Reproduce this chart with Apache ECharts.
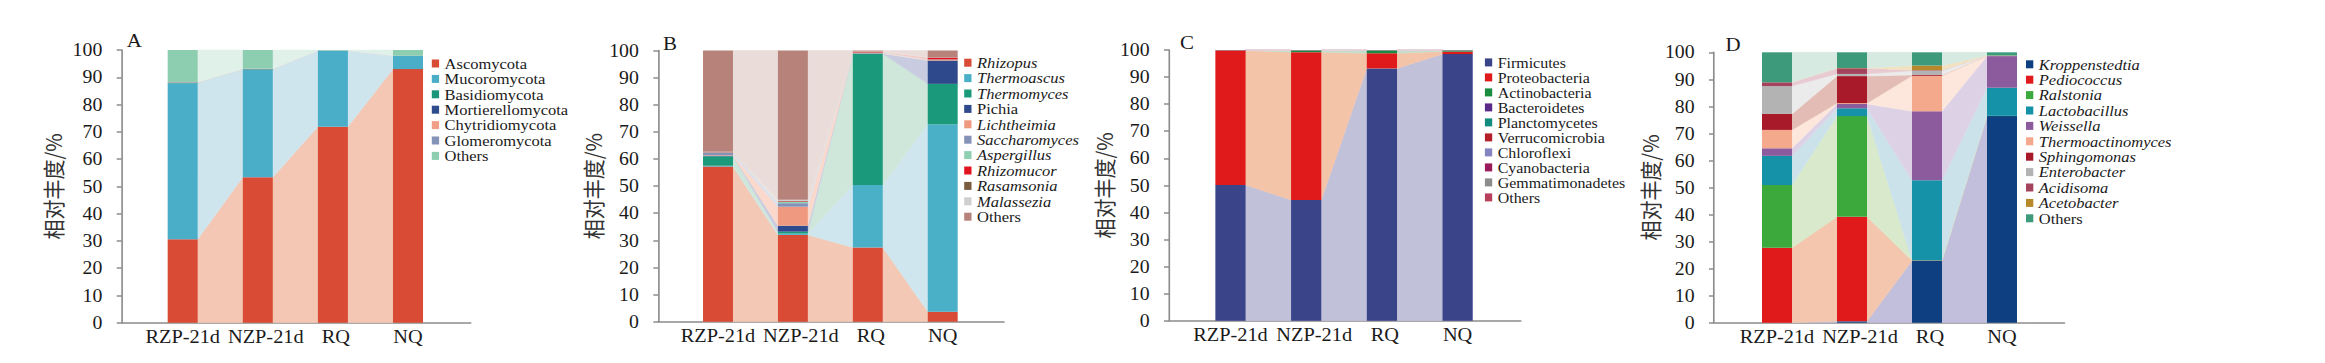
<!DOCTYPE html>
<html>
<head>
<meta charset="utf-8">
<script src="https://cdn.jsdelivr.net/npm/echarts/dist/echarts.min.js"></script>
<style>
html,body{margin:0;padding:0;background:#fff;overflow:hidden;}
#chart{width:2113.6px;height:363px;transform:scaleX(1.1);transform-origin:0 0;}
</style>
</head>
<body>
<div id="chart"></div>
<script>
// ---------------- DATA ----------------
const categories = ['RZP-21d', 'NZP-21d', 'RQ', 'NQ'];
const yAxisTitle = '相对丰度/%';

// A: fungal phyla (rows = taxa, columns = categories)
const fungalPhyla = ['Ascomycota', 'Mucoromycota', 'Basidiomycota', 'Mortierellomycota', 'Chytridiomycota', 'Glomeromycota', 'Others'];
const fungalPhylaValues = [
  [30.6, 53.3, 71.9, 93.0],
  [57.2, 39.4, 27.8, 4.8],
  [0.2, 0.2, 0.05, 0.04],
  [0.1, 0.1, 0.02, 0.02],
  [0.1, 0.1, 0.02, 0.02],
  [0.1, 0.05, 0.01, 0.02],
  [11.7, 6.85, 0.2, 2.1]
];

// B: fungal genera
const fungalGenera = ['Rhizopus', 'Thermoascus', 'Thermomyces', 'Pichia', 'Lichtheimia', 'Saccharomyces', 'Aspergillus', 'Rhizomucor', 'Rasamsonia', 'Malassezia', 'Others'];
const fungalGeneraValues = [
  [57.2, 32.0, 27.4, 3.7],
  [0.3, 0.5, 23.0, 69.1],
  [3.5, 0.7, 48.4, 14.9],
  [0.2, 2.2, 0.1, 8.6],
  [0.2, 7.0, 0.1, 0.2],
  [0.9, 1.3, 0.05, 0.1],
  [0.1, 0.5, 0.2, 0.1],
  [0.1, 0.2, 0.3, 0.7],
  [0.05, 0.1, 0.05, 0.1],
  [0.1, 0.5, 0.1, 0.1],
  [37.35, 55.0, 0.3, 2.4]
];

// C: bacterial phyla
const bacterialPhyla = ['Firmicutes', 'Proteobacteria', 'Actinobacteria', 'Bacteroidetes', 'Planctomycetes', 'Verrucomicrobia', 'Chloroflexi', 'Cyanobacteria', 'Gemmatimonadetes', 'Others'];
const bacterialPhylaValues = [
  [50.1, 44.6, 93.2, 98.5],
  [49.7, 54.6, 5.6, 0.9],
  [0.05, 0.6, 1.0, 0.4],
  [0.05, 0.05, 0.05, 0.05],
  [0.02, 0.03, 0.03, 0.03],
  [0.02, 0.03, 0.03, 0.03],
  [0.02, 0.03, 0.03, 0.03],
  [0.02, 0.03, 0.02, 0.02],
  [0.01, 0.01, 0.02, 0.02],
  [0.01, 0.02, 0.02, 0.02]
];

// D: bacterial genera
const bacterialGenera = ['Kroppenstedtia', 'Pediococcus', 'Ralstonia', 'Lactobacillus', 'Weissella', 'Thermoactinomyces', 'Sphingomonas', 'Enterobacter', 'Acidisoma', 'Acetobacter', 'Others'];
const bacterialGeneraValues = [
  [0, 0.5, 22.9, 76.4],
  [27.7, 38.7, 0.1, 0],
  [23.2, 37.2, 0.1, 0.1],
  [10.8, 2.9, 29.6, 10.4],
  [2.8, 1.6, 25.5, 11.7],
  [6.8, 0.3, 13.1, 0.1],
  [5.9, 10.0, 0.3, 0],
  [10.3, 0.8, 1.6, 0],
  [1.4, 2.1, 0.2, 0],
  [0, 0.1, 1.7, 0.1],
  [11.1, 5.8, 4.9, 1.2]
];

// ---------------- STYLE / LAYOUT ----------------
const SX = 1.1;               // horizontal stretch applied by CSS
const FONT = '"Liberation Serif", "Times New Roman", serif';
const CJK = '"Noto Sans CJK SC", sans-serif';
const AXIS_COLOR = '#8c8c8c';
const TEXT_COLOR = '#1a1a1a';
const labelShift = [0, 8, 3, 0];

const panels = [
  { letter: 'A', names: fungalPhyla, values: fungalPhylaValues,
    colors: ['#d94b34', '#4aaec8', '#1a967a', '#2e4c8b', '#f19f86', '#8493b8', '#8dcdb0'],
    flows:  ['#f3c7b3', '#cfe5ee', '#c8e6dc', '#cad1e2', '#fbe2d8', '#dde2ee', '#e0f1e9'],
    italic: [false, false, false, false, false, false, false],
    axisX: 121.7, axisEnd: 470.7, firstCenter: 182.7, band: 75.1, top: 50, y0: 322.7,
    legendX: 433.3, legendTop: 55.8, legendFont: 15, legendLine: 15.4, nameDist: 68.7, titleX: 126.7, titleTop: 31 },
  { letter: 'B', names: fungalGenera, values: fungalGeneraValues,
    colors: ['#d94b34', '#4ab0c8', '#1a9a7a', '#2e4a8c', '#ef9a80', '#8492b8', '#8fd0b2', '#e0141e', '#7b5c3e', '#cfcfcf', '#b7827a'],
    flows:  ['#f3c8b4', '#cfe6ee', '#cfe6da', '#c9cbe0', '#fad9cc', '#dcdfec', '#e0f1e9', '#f6c6c3', '#e3d9cf', '#eeeeee', '#e9dcd9'],
    italic: [true, true, true, false, true, true, true, true, true, true, false],
    axisX: 658.3, axisEnd: 1004, firstCenter: 718, band: 74.9, top: 50.5, y0: 321.7,
    legendX: 965.7, legendTop: 55, legendFont: 15, legendLine: 15.4, nameDist: 65.8, titleX: 663, titleTop: 34 },
  { letter: 'C', names: bacterialPhyla, values: bacterialPhylaValues,
    colors: ['#3a4489', '#e01a1a', '#1a8c40', '#5a2a88', '#138c80', '#b4202a', '#8584c0', '#9a1b5c', '#8c8c8c', '#b8405c'],
    flows:  ['#c2c1da', '#f4c4a8', '#c4e0cc', '#d6c9e2', '#c3e2de', '#edc4c6', '#dedef0', '#e8c5d6', '#e0e0e0', '#eec9d2'],
    italic: [false, false, false, false, false, false, false, false, false, false],
    axisX: 1169, axisEnd: 1520.8, firstCenter: 1230.5, band: 75.7, top: 50, y0: 320.7,
    legendX: 1486.4, legendTop: 54.9, legendFont: 14.5, legendLine: 14.2, nameDist: 65.5, titleX: 1180, titleTop: 33 },
  { letter: 'D', names: bacterialGenera, values: bacterialGeneraValues,
    colors: ['#0e3f80', '#e0191a', '#3ca93c', '#1692a8', '#8b5b9e', '#f5a98c', '#a8192a', '#b3b3b3', '#a3435c', '#b8892a', '#3d9b7b'],
    flows:  ['#c1bfdb', '#f4c6ad', '#d8eacb', '#cce2ea', '#ddd1e6', '#fde6dc', '#e3bdb5', '#ebebeb', '#e7cad2', '#f1e2c2', '#d6eae1'],
    italic: [true, true, true, true, true, true, true, true, true, true, false],
    axisX: 1714, axisEnd: 2064.5, firstCenter: 1777, band: 75, top: 52.3, y0: 322.7,
    legendX: 2027.5, legendTop: 56.6, legendFont: 15, legendLine: 15.4, nameDist: 61.2, titleX: 1725.5, titleTop: 35 }
];

const H = 363;
const BAR_FRACTION = 0.4;

function makeFlowRenderer(p) {
  const lower = p.values.map(() => []);
  for (let c = 0; c < categories.length; c++) {
    let acc = 0;
    for (let s = 0; s < p.values.length; s++) { lower[s][c] = acc; acc += p.values[s][c]; }
  }
  return function (params, api) {
    const g = api.value(0), s = api.value(1);
    const half = api.size([1, 0])[0] * BAR_FRACTION / 2;
    const xa = api.coord([g, 0])[0] + half;
    const xb = api.coord([g + 1, 0])[0] - half;
    const y = v => api.coord([g, v])[1];
    const lo0 = lower[s][g], hi0 = lo0 + p.values[s][g];
    const lo1 = lower[s][g + 1], hi1 = lo1 + p.values[s][g + 1];
    return {
      type: 'polygon',
      shape: { points: [[xa, y(lo0)], [xa, y(hi0)], [xb, y(hi1)], [xb, y(lo1)]] },
      style: { fill: p.flows[s], stroke: p.flows[s], lineWidth: 0.4 }
    };
  };
}

const grid = [], xAxis = [], yAxis = [], series = [], legend = [], title = [];
const rich = {};
labelShift.forEach((sh, i) => {
  rich['p' + i] = { fontFamily: FONT, fontSize: 18.5, color: TEXT_COLOR, padding: [0, 0, 0, 2 * sh / SX] };
});

panels.forEach((p, pi) => {
  const ag = 2 * pi, bg = 2 * pi + 1;
  grid.push({ left: p.axisX / SX, width: (p.axisEnd - p.axisX) / SX, top: p.top, height: p.y0 - p.top, outerBoundsMode: 'none', containLabel: false });
  grid.push({ left: (p.firstCenter - p.band / 2) / SX, width: 4 * p.band / SX, top: p.top, height: p.y0 - p.top, outerBoundsMode: 'none', containLabel: false });

  xAxis.push({ gridIndex: ag, type: 'value', min: 0, max: 1,
    axisLine: { show: true, lineStyle: { color: AXIS_COLOR, width: 1.5 } },
    axisTick: { show: false }, axisLabel: { show: false }, splitLine: { show: false } });
  xAxis.push({ gridIndex: bg, type: 'category', data: categories, boundaryGap: true,
    axisLine: { show: false }, axisTick: { show: false }, splitLine: { show: false },
    axisLabel: { interval: 0, margin: 5, fontFamily: FONT, fontSize: 18.5, color: TEXT_COLOR,
      formatter: (v, i) => '{p' + i + '|' + v + '}', rich: rich } });

  yAxis.push({ gridIndex: ag, type: 'value', min: 0, max: 100, interval: 10,
    name: yAxisTitle, nameLocation: 'middle', nameRotate: 90, nameGap: p.nameDist / SX - 10,
    nameTextStyle: { fontFamily: CJK, fontSize: 20, color: '#333' },
    axisLine: { show: true, lineStyle: { color: AXIS_COLOR, width: 1.5 } },
    axisTick: { show: true, length: 5 / SX, lineStyle: { color: AXIS_COLOR, width: 1.5 } },
    axisLabel: { margin: 19.4 / SX, fontFamily: FONT, fontSize: 18, color: TEXT_COLOR },
    splitLine: { show: false } });
  yAxis.push({ gridIndex: bg, type: 'value', min: 0, max: 100, show: false, splitLine: { show: false } });

  const flowData = [];
  for (let g = 0; g < categories.length - 1; g++) for (let s = 0; s < p.names.length; s++) flowData.push([g, s]);
  series.push({ type: 'custom', xAxisIndex: bg, yAxisIndex: bg, data: flowData, renderItem: makeFlowRenderer(p),
    silent: true, z: 1, animation: false, encode: { x: 0, y: 1 } });

  p.names.forEach((n, s) => {
    series.push({ type: 'bar', name: p.letter + '|' + n, xAxisIndex: bg, yAxisIndex: bg, stack: 'stack' + p.letter,
      barWidth: (BAR_FRACTION * 100) + '%', data: p.values[s], itemStyle: { color: p.colors[s] }, z: 3, animation: false });
  });

  legend.push({ orient: 'vertical', left: (p.legendX - 1.5) / SX, top: p.legendTop, padding: 0,
    icon: 'rect', itemWidth: 7.3 / SX, itemHeight: 8, itemGap: 0, selectedMode: false,
    formatter: name => name.split('|')[1],
    textStyle: { fontFamily: FONT, fontSize: p.legendFont, lineHeight: p.legendLine, color: TEXT_COLOR },
    data: p.names.map((n, s) => p.italic[s] ? { name: p.letter + '|' + n, textStyle: { fontStyle: 'italic' } } : { name: p.letter + '|' + n }) });

  title.push({ text: p.letter, left: p.titleX / SX, top: p.titleTop, padding: 0,
    textStyle: { fontFamily: FONT, fontSize: 19, fontWeight: 'normal', color: TEXT_COLOR } });
});

const chart = echarts.init(document.getElementById('chart'), null, { renderer: 'svg' });
chart.setOption({ backgroundColor: '#ffffff', animation: false, title, legend, grid, xAxis, yAxis, series });
</script>
</body>
</html>
